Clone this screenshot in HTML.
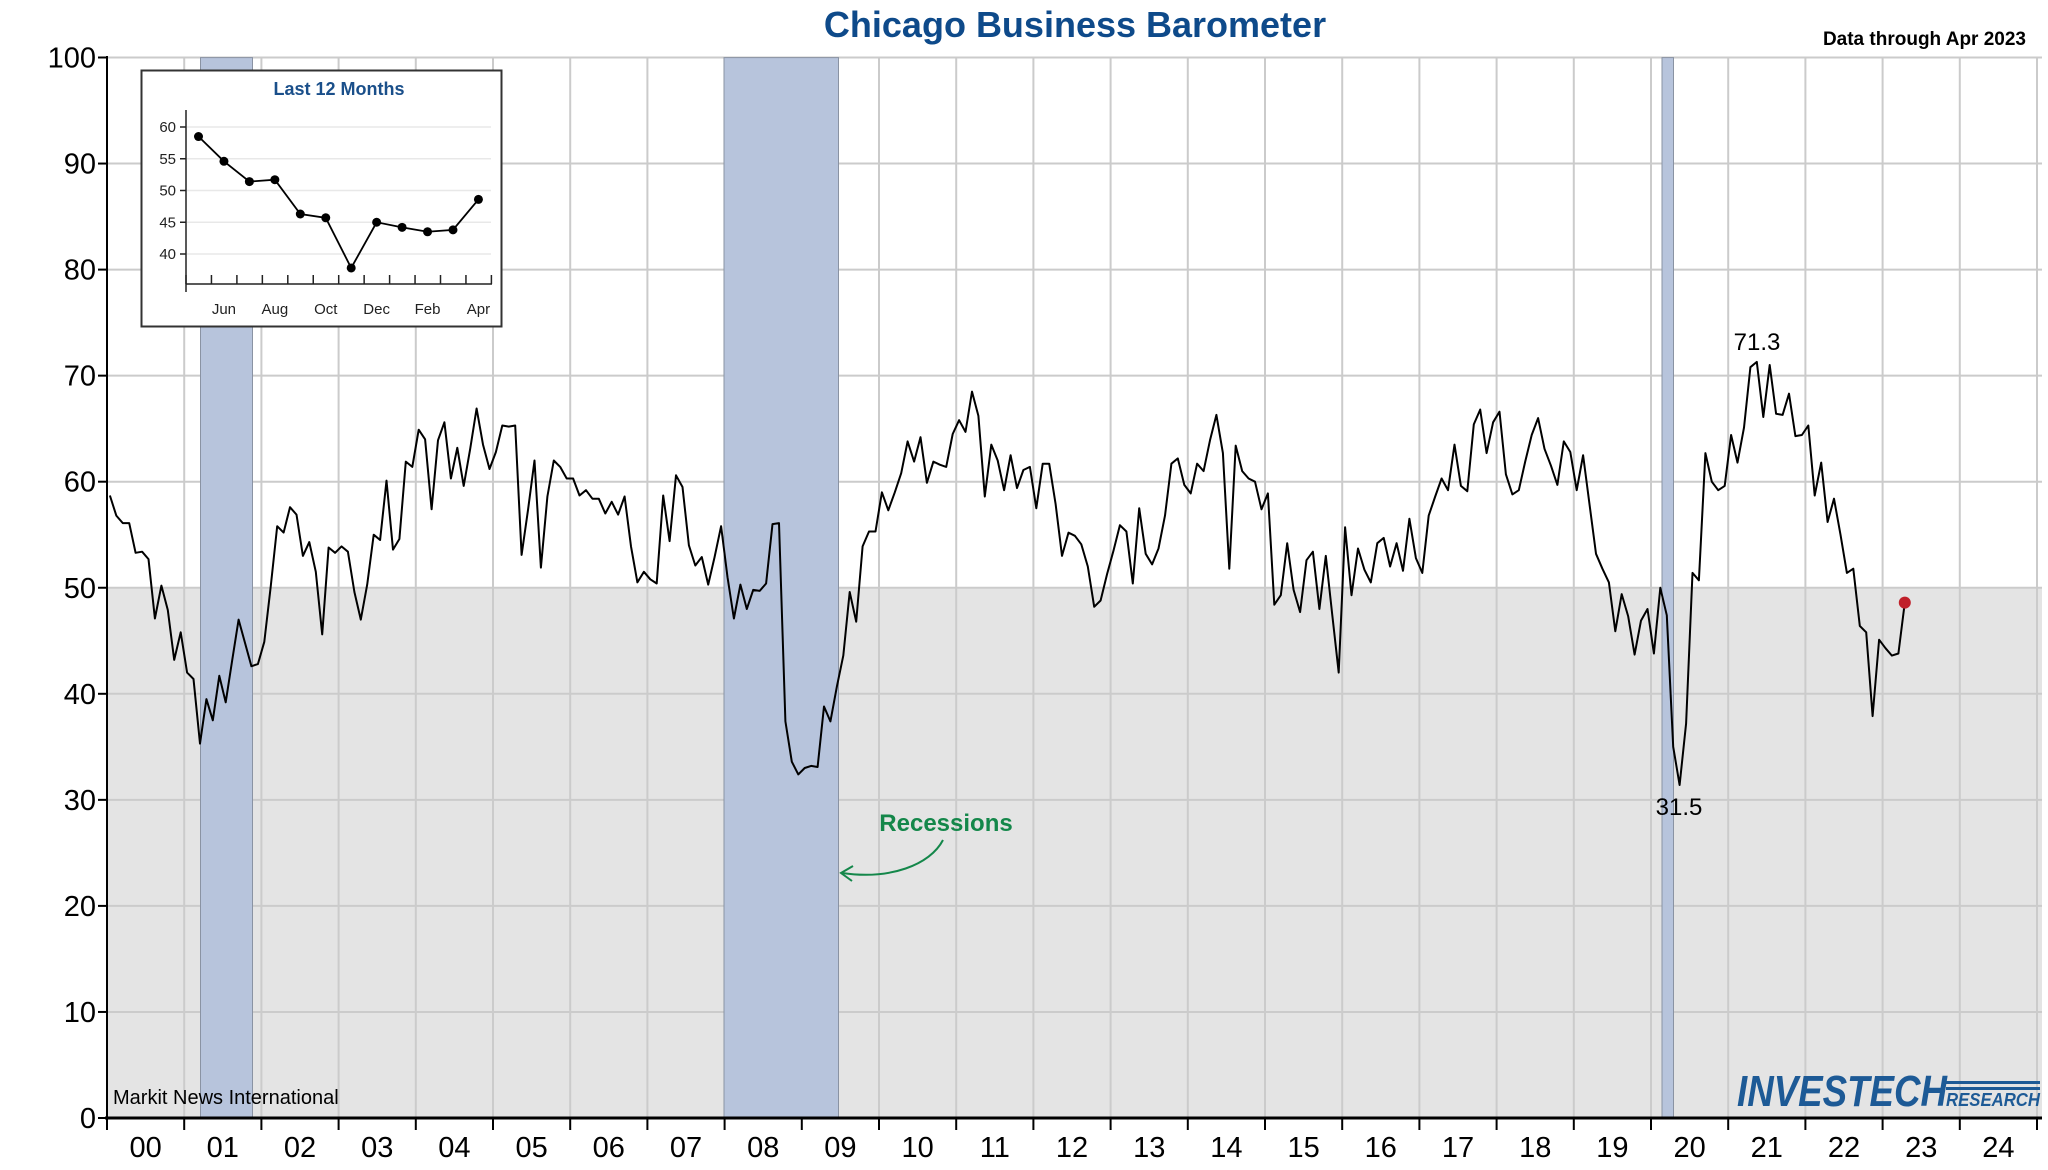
<!DOCTYPE html>
<html><head><meta charset="utf-8"><style>
html,body{margin:0;padding:0;background:#fff;}
svg{display:block;font-family:"Liberation Sans",Arial,sans-serif;}
</style></head><body>
<svg id="s" width="2048" height="1170" viewBox="0 0 2048 1170" xmlns="http://www.w3.org/2000/svg">
<rect width="2048" height="1170" fill="#fff"/>
<rect x="107" y="588" width="1935" height="530" fill="#e4e4e4"/>
<g id="grid" stroke="#cbcbcb" stroke-width="2"></g>
<g fill="#b7c4dc" stroke="#8a93a3" stroke-width="1">
<rect x="200.5" y="57.6" width="52" height="1060.5"/>
<rect x="724" y="57.6" width="114.5" height="1060.5"/>
<rect x="1662" y="57.6" width="11.5" height="1060.5"/>
</g>
<g id="axes" stroke="#000" stroke-width="2"></g>
<g id="labels" font-size="29" fill="#000"></g>
<path id="line" fill="none" stroke="#000" stroke-width="2" stroke-linejoin="round"/>
<circle id="dot" r="6" fill="#c0202a"/>
<text x="1075" y="37" text-anchor="middle" font-size="36" font-weight="bold" fill="#0e4a8a">Chicago Business Barometer</text>
<text x="2026" y="45" text-anchor="end" font-size="19" font-weight="bold" fill="#000">Data through Apr 2023</text>
<text x="1757" y="350" text-anchor="middle" font-size="24" fill="#000">71.3</text>
<text x="1679" y="815" text-anchor="middle" font-size="24" fill="#000">31.5</text>
<text x="946" y="831" text-anchor="middle" font-size="24" font-weight="bold" fill="#14874a">Recessions</text>
<path d="M943,840 C930,865 890,880 842,873" fill="none" stroke="#14874a" stroke-width="2"/>
<path d="M853,866 L841,873 L852,881" fill="none" stroke="#14874a" stroke-width="2"/>
<text x="113" y="1104" font-size="20" fill="#000">Markit News International</text>
<g fill="#1d5a96" font-style="italic" font-weight="bold">
<text x="1737" y="1106" font-size="44" textLength="210" lengthAdjust="spacingAndGlyphs">INVESTECH</text>
<text x="1946" y="1106" font-size="18" textLength="94" lengthAdjust="spacingAndGlyphs">RESEARCH</text>
<rect x="1946" y="1081" width="94" height="3"/><rect x="1946" y="1087" width="94" height="3"/>
</g>
<g id="inset">
<rect x="141.5" y="70.5" width="360" height="256" fill="#fff" stroke="#333" stroke-width="2"/>
<text x="339" y="95" text-anchor="middle" font-size="18" font-weight="bold" fill="#1a4f8a">Last 12 Months</text>
<g id="ig" stroke="#e8e8e8" stroke-width="1.5"></g>
<g id="ia" stroke="#222" stroke-width="1.5"></g>
<g id="il" font-size="15" fill="#222"></g>
<path id="iline" fill="none" stroke="#000" stroke-width="1.8"/>
<g id="idots" fill="#000"></g>
</g>
</svg>
<script>
var NS="http://www.w3.org/2000/svg";
function el(p,t,a,txt){var e=document.createElementNS(NS,t);for(var k in a)e.setAttribute(k,a[k]);if(txt!=null)e.textContent=txt;document.getElementById(p).appendChild(e);return e;}
var X0=107,YW=77.2,Y0=1118,YU=10.605;
function yv(v){return Y0-v*YU;}
for(var i=1;i<=25;i++){var x=X0+i*YW;el("grid","line",{x1:x,y1:57.6,x2:x,y2:Y0});}
for(var v=10;v<=100;v+=10){el("grid","line",{x1:X0,y1:yv(v),x2:2042,y2:yv(v)});}
el("axes","line",{x1:X0,y1:56,x2:X0,y2:Y0+10});
el("axes","line",{x1:X0-2,y1:Y0,x2:2042,y2:Y0,"stroke-width":3});
for(var v=0;v<=100;v+=10){el("axes","line",{x1:X0-9,y1:yv(v),x2:X0,y2:yv(v)});
 el("labels","text",{x:96,y:yv(v)+10,"text-anchor":"end"},String(v));}
for(var i=0;i<=25;i++){var x=X0+i*YW;el("axes","line",{x1:x,y1:Y0,x2:x,y2:Y0+12});}
for(var i=0;i<25;i++){var x=X0+(i+0.5)*YW;el("labels","text",{x:x,y:1157,"text-anchor":"middle"},(i<10?"0":"")+i);}
var d=[
58.7,56.8,56.1,56.1,53.3,53.4,52.7,47.1,50.2,47.9,43.2,45.8,
42,41.4,35.3,39.5,37.5,41.7,39.2,43.1,47,44.8,42.6,42.8,
44.9,50.1,55.8,55.2,57.6,56.9,53,54.3,51.5,45.6,53.8,53.3,
53.9,53.4,49.6,47,50.3,55,54.5,60.1,53.6,54.6,61.9,61.4,
64.9,64,57.4,63.9,65.6,60.3,63.2,59.6,63.1,66.9,63.5,61.2,
62.8,65.3,65.2,65.3,53.1,57.4,62,51.9,58.6,62,61.4,60.3,
60.3,58.7,59.2,58.4,58.4,57,58.1,56.9,58.6,53.9,50.5,51.5,
50.8,50.4,58.7,54.4,60.6,59.5,54,52.1,52.9,50.3,52.9,55.8,
51,47.1,50.3,48,49.8,49.7,50.4,56,56.1,37.4,33.6,32.4,
33,33.2,33.1,38.8,37.4,40.7,43.6,49.6,46.8,53.9,55.3,55.3,
59,57.3,59,60.8,63.8,61.9,64.2,59.9,61.9,61.6,61.4,64.5,
65.8,64.7,68.5,66.2,58.6,63.5,62,59.2,62.5,59.4,61.1,61.4,
57.5,61.7,61.7,57.9,53,55.2,54.9,54.1,52,48.2,48.8,51.3,
53.5,55.9,55.3,50.4,57.5,53.2,52.2,53.7,56.8,61.7,62.2,59.7,
58.9,61.7,61,63.9,66.3,62.7,51.8,63.4,61,60.3,60,57.4,
58.9,48.4,49.3,54.2,49.8,47.7,52.6,53.4,48,53,47.5,42,
55.7,49.3,53.7,51.7,50.5,54.2,54.7,52,54.2,51.6,56.5,52.8,
51.4,56.8,58.6,60.3,59.2,63.5,59.6,59.1,65.4,66.8,62.7,65.6,
66.6,60.7,58.8,59.2,61.9,64.4,66,63.1,61.5,59.7,63.8,62.8,
59.2,62.5,57.8,53.2,51.8,50.5,45.9,49.4,47.3,43.7,46.9,48,
43.8,50,47.4,35,31.4,37.2,51.4,50.7,62.7,60,59.2,59.6,
64.4,61.8,65.1,70.8,71.3,66.1,71,66.4,66.3,68.3,64.3,64.4,
65.3,58.7,61.8,56.2,58.4,55,51.4,51.8,46.4,45.8,37.9,45.1,
44.3,43.6,43.8,48.6];
var p="";for(var i=0;i<d.length;i++){var x=X0+(i+0.45)/12*YW;p+=(i?"L":"M")+x.toFixed(1)+","+yv(d[i]).toFixed(1);}
document.getElementById("line").setAttribute("d",p);
var li=d.length-1;document.getElementById("dot").setAttribute("cx",X0+(li+0.45)/12*YW);document.getElementById("dot").setAttribute("cy",yv(d[li]));
function iy(v){return 127+(60-v)*6.35;}
for(var v=40;v<=60;v+=5){el("ig","line",{x1:187,y1:iy(v),x2:491,y2:iy(v)});el("ia","line",{x1:180,y1:iy(v),x2:186,y2:iy(v)});el("il","text",{x:176,y:iy(v)+5,"text-anchor":"end"},String(v));}
el("ia","line",{x1:186,y1:110,x2:186,y2:292});
el("ia","line",{x1:186,y1:284,x2:492,y2:284});
for(var i=0;i<=12;i++){var x=186+i*25.45;el("ia","line",{x1:x,y1:275,x2:x,y2:284});}
var iv=[58.5,54.6,51.4,51.7,46.3,45.7,37.8,45,44.2,43.5,43.8,48.6];
var ip="";for(var i=0;i<12;i++){var x=198.5+i*25.45;ip+=(i?"L":"M")+x+","+iy(iv[i]);el("idots","circle",{cx:x,cy:iy(iv[i]),r:4.5});}
document.getElementById("iline").setAttribute("d",ip);
var mn=["Jun","Aug","Oct","Dec","Feb","Apr"];
for(var k=0;k<6;k++){var x=198.5+(2*k+1)*25.45;el("il","text",{x:x,y:314,"text-anchor":"middle"},mn[k]);}
</script>
</body></html>
